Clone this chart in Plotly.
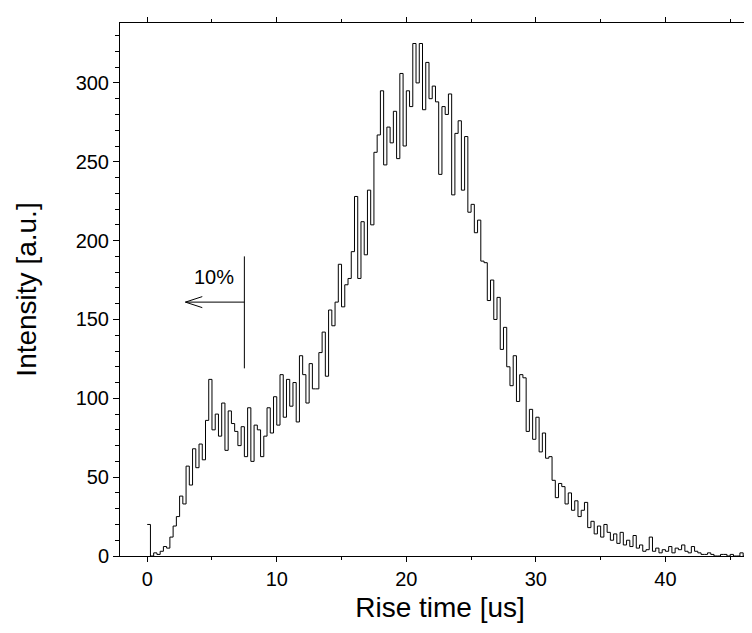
import numpy as np
import plotly.graph_objects as go

# Histogram of rise times, bin width 0.25 us, bins starting at 0
bin_width = 0.25
counts = [
    20, 0, 2, 1,          # 0
    3, 6, 5, 12,          # 1
    19, 25, 38, 33,       # 2
    57, 45, 68, 56,       # 3
    71, 61, 86, 112,      # 4
    80, 90, 76, 97,       # 5
    67, 92, 84, 79,       # 6
    70, 82, 63, 94,       # 7
    60, 83, 80, 63,       # 8
    76, 94, 78, 101,      # 9
    83, 115, 88, 112,     # 10
    95, 110, 85, 127,     # 11
    115, 97, 122, 106,    # 12
    106, 129, 142, 114,   # 13
    156, 146, 161, 185,   # 14
    158, 172, 176, 193,   # 15
    228, 176, 212, 191,   # 16
    232, 210, 256, 267,   # 17
    295, 248, 272, 262,   # 18
    282, 252, 306, 260,   # 19
    295, 285, 325, 300,   # 20
    325, 283, 313, 290,   # 21
    298, 288, 242, 285,   # 22
    280, 293, 229, 268,   # 23
    276, 232, 266, 218,   # 24
    223, 205, 213, 187,   # 25
    186, 162, 175, 150,   # 26
    164, 131, 145, 120,   # 27
    108, 127, 98, 115,    # 28
    113, 79, 93, 74,      # 29
    88, 66, 78, 62,       # 30
    63, 48, 37, 46,       # 31
    44, 33, 40, 29,       # 32
    35, 25, 29, 34,       # 33
    18, 22, 14, 19,       # 34
    12, 20, 15, 10,       # 35
    14, 8, 15, 7,         # 36
    10, 6, 13, 5,         # 37
    7, 3, 4, 12,          # 38
    3, 5, 2, 4,           # 39
    3, 6, 2, 5,           # 40
    4, 7, 3, 2,           # 41
    6, 3, 2, 1,           # 42
    1, 2, 1, 0,           # 43
    0, 1, 1, 0,           # 44
    1, 0, 0, 2,           # 45
    0, 1, 2, 0,           # 46
    1,                    # 47
]
x_tick_vals = [0, 10, 20, 30, 40]
y_tick_vals = [0, 50, 100, 150, 200, 250, 300]

edges = [i * bin_width for i in range(len(counts) + 1)]
xs = edges
ys = counts + [counts[-1]]

font_family = "Liberation Sans, Arial, sans-serif"

fig = go.Figure()
fig.add_trace(go.Scatter(
    x=xs, y=ys, mode="lines", line=dict(shape="hv", color="black", width=1),
    hoverinfo="skip", showlegend=False,
))

# 10% marker: vertical line and left arrow
mx = 7.5
shapes = [
    dict(type="line", x0=mx, x1=mx, y0=119, y1=190, line=dict(color="black", width=1)),
    dict(type="line", x0=2.95, x1=mx, y0=161, y1=161, line=dict(color="black", width=1)),
    dict(type="line", x0=2.95, x1=4.25, y0=161, y1=164.5, line=dict(color="black", width=1)),
    dict(type="line", x0=2.95, x1=4.25, y0=161, y1=157.5, line=dict(color="black", width=1)),
]
for s in shapes:
    s["xref"] = "x"
    s["yref"] = "y"

fig.update_layout(
    width=752, height=633,
    margin=dict(l=112, r=0, t=15, b=85),
    paper_bgcolor="white", plot_bgcolor="white",
    font=dict(family=font_family, color="black", size=20),
    shapes=shapes,
    annotations=[dict(x=5.15, y=177, xref="x", yref="y", text="10%", showarrow=False,
                      font=dict(size=20, family=font_family, color="black"))],
    xaxis=dict(
        range=[-2.1, 47.3], tickmode="array", tickvals=x_tick_vals,
        ticks="outside", ticklen=5, tickwidth=1, tickcolor="black",
        showline=True, linecolor="black", linewidth=1, mirror="ticks",
        showgrid=False, zeroline=False,
        minor=dict(dtick=5, tick0=0, ticks="outside", ticklen=3, tickcolor="black", showgrid=False),
        title=dict(text="Rise time [us]", font=dict(size=28), standoff=8),
        tickfont=dict(size=20),
    ),
    yaxis=dict(
        range=[0, 338], tickmode="array", tickvals=y_tick_vals,
        ticks="outside", ticklen=6, tickwidth=1, tickcolor="black",
        showline=True, linecolor="black", linewidth=1, mirror=False,
        showgrid=False, zeroline=False,
        minor=dict(dtick=10, tick0=0, ticks="outside", ticklen=4, tickcolor="black", showgrid=False),
        title=dict(text="Intensity [a.u.]", font=dict(size=28), standoff=30),
        tickfont=dict(size=20),
    ),
)

fig.write_html("out.html")
